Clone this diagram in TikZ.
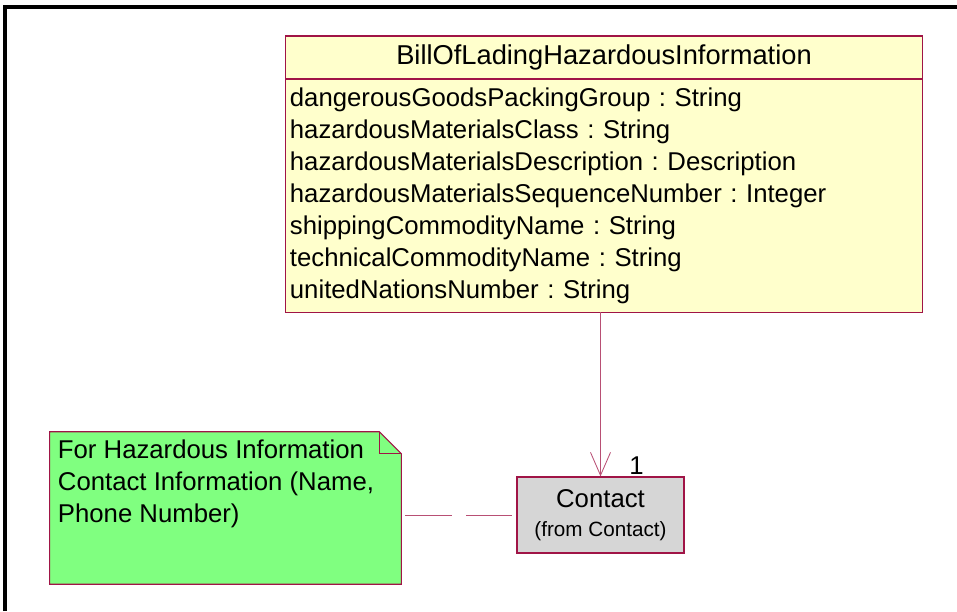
\documentclass[tikz,border=0pt]{standalone}
\usepackage{fontspec}
\setmainfont{Liberation Sans}
\frenchspacing
\usetikzlibrary{positioning,arrows.meta}
\definecolor{umlline}{RGB}{160,20,70}
\definecolor{umlclass}{RGB}{255,255,204}
\definecolor{umlnote}{RGB}{128,255,128}
\definecolor{umlgray}{RGB}{214,214,214}

\begin{document}
\begin{tikzpicture}[x=0.025cm,y=-0.025cm,
classhead/.style={draw=umlline,fill=umlclass,line width=0.8pt,outer sep=0pt,minimum width=15.9cm,minimum height=1.075cm,inner sep=0pt,font=\fontsize{19.4}{22.8}\selectfont},
classattr/.style={draw=umlline,fill=umlclass,line width=0.8pt,outer sep=0pt,minimum width=15.9cm,minimum height=5.825cm,inner xsep=0.1cm,inner ysep=0pt,text width=15.7cm,align=left,font=\fontsize{18.3}{22.8}\selectfont},
refclass/.style={draw=umlline,fill=umlgray,line width=0.8pt,minimum width=4.175cm,minimum height=1.9cm,inner sep=0pt,align=center,font=\fontsize{18.3}{22.8}\selectfont},
notebox/.style={minimum width=8.775cm,minimum height=3.8cm,inner sep=0pt},
notetext/.style={inner sep=0pt,align=left,font=\fontsize{18.3}{22.8}\selectfont},
link/.style={draw=umlline!75,line width=0.6pt},
frame/.style={draw=black,line width=2.2pt}]

\useasboundingbox (0,0) rectangle (957,611);
\draw[frame] (5,611) -- (5,7) -- (957,7);

\node[classhead] (head) at (604,57.5) {BillOfLadingHazardousInformation};
\node[classattr,below=0pt of head] (attrs) {dangerousGoodsPackingGroup : String\\
hazardousMaterialsClass : String\\
hazardousMaterialsDescription : Description\\
hazardousMaterialsSequenceNumber : Integer\\
shippingCommodityName : String\\
technicalCommodityName : String\\
unitedNationsNumber : String};

\node[refclass] (contact) at (600.5,515) {Contact\\[-2pt]{\fontsize{14.7}{17}\selectfont(from Contact)}};

\node[notebox] (note) at (225.5,508) {};
\draw[draw=umlline,fill=umlnote,line width=0.8pt] (note.north west) -- ([shift={(-22,0)}]note.north east) -- ([shift={(0,22)}]note.north east) -- (note.south east) -- (note.south west) -- cycle;
\draw[draw=umlline,line width=0.6pt] ([shift={(-22,0)}]note.north east) |- ([shift={(0,22)}]note.north east);
\node[notetext,anchor=north west] (notetxt) at ([shift={(8,8)}]note.north west) {For Hazardous Information\\Contact Information (Name,\\Phone Number)};

\draw[link,-{Straight Barb[length=0.575cm,width=0.5cm]}] (attrs.south -| contact.north) -- (contact.north) node[font=\fontsize{18.3}{22.8}\selectfont,inner sep=0pt,anchor=center] (mult) at ([shift={(36,-11)}]contact.north) {1};
\draw[link,dash pattern=on 1.175cm off 0.35cm,shorten <=0.1cm,shorten >=0.1cm] (note.east |- contact.west) -- (contact.west);
\end{tikzpicture}
\end{document}
